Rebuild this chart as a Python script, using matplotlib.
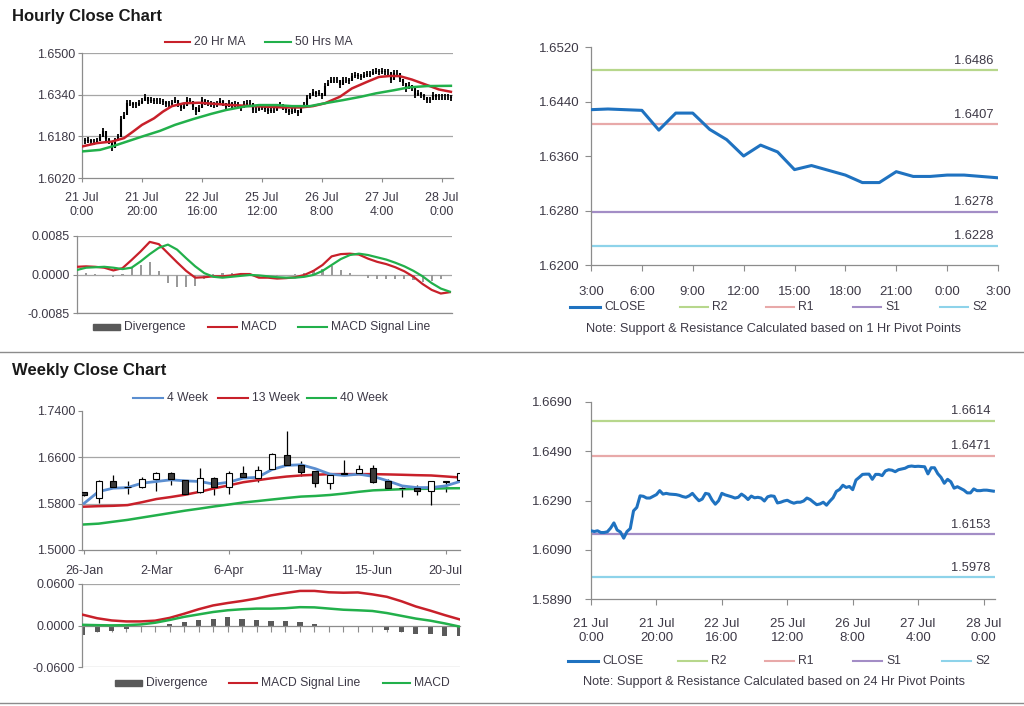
import matplotlib
matplotlib.use("Agg")
import matplotlib.pyplot as plt
import numpy as np
from matplotlib.lines import Line2D
from matplotlib.patches import Rectangle

plt.rcParams["font.family"] = ["Liberation Sans", "DejaVu Sans"]
plt.rcParams["font.size"] = 8

# ---------------- data ----------------
# hourly closes, 21 Jul 0:00 .. 28 Jul 3:00 (weekend hours skipped)
hourly_close = [
    1.6167, 1.6164, 1.6167, 1.6160, 1.6160, 1.6163, 1.6178, 1.6199, 1.6170, 1.6162,
    1.6137, 1.6164, 1.6176, 1.6248, 1.6262, 1.6309, 1.6307, 1.6300, 1.6300, 1.6307,
    1.6314, 1.6330, 1.6316, 1.6319, 1.6316, 1.6315, 1.6314, 1.6311, 1.6306, 1.6303,
    1.6309, 1.6319, 1.6303, 1.6289, 1.6296, 1.6319, 1.6316, 1.6292, 1.6275, 1.6289,
    1.6319, 1.6313, 1.6309, 1.6305, 1.6300, 1.6303, 1.6316, 1.6307, 1.6294, 1.6308,
    1.6301, 1.6303, 1.6300, 1.6288, 1.6305, 1.6309, 1.6307, 1.6280, 1.6283, 1.6288,
    1.6291, 1.6284, 1.6279, 1.6283, 1.6283, 1.6288, 1.6300, 1.6294, 1.6283, 1.6273,
    1.6276, 1.6283, 1.6271, 1.6287, 1.6301, 1.6327, 1.6335, 1.6352, 1.6343, 1.6347,
    1.6334, 1.6373, 1.6384, 1.6396, 1.6397, 1.6397, 1.6376, 1.6396, 1.6396, 1.6391,
    1.6410, 1.6415, 1.6413, 1.6407, 1.6415, 1.6418, 1.6421, 1.6428, 1.6430,
    1.6428, 1.6429, 1.6428, 1.6427, 1.6398, 1.6423, 1.6423, 1.6399, 1.6384, 1.6360,
    1.6376, 1.6366, 1.6340, 1.6346, 1.6339, 1.6332, 1.6321, 1.6321, 1.6337, 1.6330,
    1.6330, 1.6332, 1.6332, 1.6330, 1.6328,
]
hour_ticks = [0, 20, 40, 60, 80, 100, 120]
hour_tick_labels = ["21 Jul\n0:00", "21 Jul\n20:00", "22 Jul\n16:00", "25 Jul\n12:00",
                    "26 Jul\n8:00", "27 Jul\n4:00", "28 Jul\n0:00"]

ma20_hours = [0, 5, 10, 14, 17, 20, 24, 27, 30, 34, 39, 45, 50, 57, 61, 67, 73, 77, 81,
              86, 90, 95, 99, 103, 106, 110, 115, 119, 123]
ma20 = [1.6141, 1.6154, 1.6160, 1.6173, 1.6198, 1.6224, 1.6249, 1.6275, 1.6296, 1.6307,
        1.6309, 1.6304, 1.6300, 1.6296, 1.6294, 1.6291, 1.6291, 1.6296, 1.6307, 1.6332,
        1.6364, 1.6389, 1.6408, 1.6412, 1.6411, 1.6398, 1.6377, 1.6360, 1.6351]
ma50_hours = [0, 6, 10, 15, 20, 26, 31, 37, 43, 48, 54, 59, 65, 70, 76, 81, 87, 93, 98,
              104, 109, 115, 123]
ma50 = [1.6122, 1.6128, 1.6141, 1.6160, 1.6179, 1.6201, 1.6224, 1.6246, 1.6266, 1.6281,
        1.6294, 1.6300, 1.6300, 1.6296, 1.6296, 1.6307, 1.6319, 1.6332, 1.6345, 1.6357,
        1.6368, 1.6373, 1.6374]

# hourly MACD, read every 3 hours
macd_1h = [0.0017, 0.0018, 0.0017, 0.0015, 0.0009, 0.0014, 0.0032, 0.0051, 0.0072, 0.0067,
           0.0047, 0.0027, 0.0008, -0.0007, -0.0006, -0.0004, -0.0004, -0.0002, 0.0001, 0.0001,
           -0.0007, -0.0007, -0.0009, -0.0008, -0.0006, -0.0001, 0.0008, 0.0021, 0.0040, 0.0045,
           0.0046, 0.0044, 0.0035, 0.0028, 0.0023, 0.0016, 0.0007, -0.0005, -0.0021, -0.0034,
           -0.0042, -0.0039]
signal_1h = [0.0010, 0.0015, 0.0016, 0.0017, 0.0015, 0.0012, 0.0015, 0.0029, 0.0045, 0.0059,
             0.0066, 0.0055, 0.0036, 0.0018, 0.0003, -0.0005, -0.0007, -0.0005, -0.0003, -0.0001,
             -0.0002, -0.0004, -0.0006, -0.0007, -0.0007, -0.0005, -0.0001, 0.0008, 0.0021, 0.0034,
             0.0043, 0.0046, 0.0043, 0.0038, 0.0033, 0.0026, 0.0018, 0.0008, -0.0004, -0.0019,
             -0.0031, -0.0038]

# weekly candles 26-Jan .. 27-Jul
wk_open = [1.6004, 1.5900, 1.6190, 1.6092, 1.6092, 1.6226, 1.6337, 1.6209, 1.6004, 1.6250,
           1.6092, 1.6337, 1.6238, 1.6396, 1.6647, 1.6472, 1.6366, 1.6150, 1.6326, 1.6326,
           1.6413, 1.6191, 1.6075, 1.6074, 1.6022, 1.6180, 1.6209]
wk_high = [1.6010, 1.6215, 1.6296, 1.6191, 1.6255, 1.6355, 1.6355, 1.6215, 1.6413, 1.6267,
           1.6372, 1.6442, 1.6442, 1.6676, 1.7055, 1.6530, 1.6366, 1.6296, 1.6547, 1.6472,
           1.6472, 1.6220, 1.6080, 1.6121, 1.6191, 1.6190, 1.6337]
wk_low = [1.5940, 1.5815, 1.6080, 1.5964, 1.6063, 1.6016, 1.6121, 1.5975, 1.5987, 1.5946,
          1.5964, 1.6260, 1.6180, 1.6390, 1.6472, 1.6279, 1.6092, 1.6045, 1.6314, 1.6320,
          1.6160, 1.6050, 1.5917, 1.5946, 1.5771, 1.6004, 1.6209]
wk_close = [1.5946, 1.6190, 1.6090, 1.6088, 1.6220, 1.6337, 1.6226, 1.5975, 1.6238, 1.6092,
            1.6326, 1.6267, 1.6384, 1.6658, 1.6472, 1.6355, 1.6150, 1.6296, 1.6320, 1.6396,
            1.6180, 1.6063, 1.6069, 1.6022, 1.6191, 1.6185, 1.6337]
ma4w = [1.5806, 1.6009, 1.6067, 1.6078, 1.6154, 1.6183, 1.6212, 1.6194, 1.6183, 1.6136,
        1.6171, 1.6241, 1.6255, 1.6390, 1.6461, 1.6472, 1.6403, 1.6310, 1.6287, 1.6310,
        1.6270, 1.6194, 1.6107, 1.6078, 1.6078, 1.6107, 1.6183]
ma13w = [1.5748, 1.5757, 1.5763, 1.5775, 1.5825, 1.5880, 1.5915, 1.5955, 1.6005, 1.6065,
         1.6115, 1.6170, 1.6205, 1.6240, 1.6268, 1.6287, 1.6299, 1.6310, 1.6310, 1.6310,
         1.6310, 1.6305, 1.6299, 1.6292, 1.6287, 1.6270, 1.6252]
ma40w = [1.5441, 1.5455, 1.5488, 1.5520, 1.5560, 1.5600, 1.5640, 1.5680, 1.5715, 1.5752,
         1.5785, 1.5820, 1.5845, 1.5872, 1.5898, 1.5922, 1.5933, 1.5950, 1.5975, 1.6005,
         1.6030, 1.6040, 1.6050, 1.6055, 1.6058, 1.6065, 1.6067]
week_ticks = [0, 5, 10, 15, 20, 25]
week_tick_labels = ["26-Jan", "2-Mar", "6-Apr", "11-May", "15-Jun", "20-Jul"]

wk_divergence = [-0.0135, -0.0100, -0.0085, -0.0052, -0.0015, -0.0005, 0.0025, 0.0049, 0.0083,
                 0.0098, 0.0120, 0.0098, 0.0083, 0.0068, 0.0065, 0.0049, 0.0020, -0.0005,
                 -0.0015, -0.0015, -0.0018, -0.0063, -0.0098, -0.0117, -0.0130, -0.0146, -0.0146]
wk_signal = [0.0156, 0.0105, 0.0073, 0.0059, 0.0059, 0.0070, 0.0110, 0.0170, 0.0235, 0.0290,
             0.0325, 0.0355, 0.0390, 0.0435, 0.0470, 0.0500, 0.0500, 0.0480, 0.0474, 0.0478,
             0.0450, 0.0415, 0.0351, 0.0275, 0.0215, 0.0150, 0.0090]
wk_macd = [0.0010, 0.0005, 0.0002, 0.0005, 0.0015, 0.0040, 0.0080, 0.0125, 0.0160, 0.0195,
           0.0220, 0.0235, 0.0244, 0.0244, 0.0250, 0.0265, 0.0262, 0.0245, 0.0228, 0.0220,
           0.0210, 0.0180, 0.0140, 0.0100, 0.0070, 0.0030, -0.0015]

level_names = ["R2", "R1", "S1", "S2"]
pivot_1h_levels = [1.6486, 1.6407, 1.6278, 1.6228]
pivot_24h_levels = [1.6614, 1.6471, 1.6153, 1.5978]
pivot_1h_tick_labels = ["3:00", "6:00", "9:00", "12:00", "15:00", "18:00", "21:00", "0:00", "3:00"]

# ---------------- style ----------------
W, H = 1024, 706
TEXT = "#3d3946"
AXIS = "#8c8c8c"
GRID = "#a6a6a6"
RED = "#c8202a"
GREEN = "#22b04b"
BLUE_MA = "#5b8ed0"
CLOSE_BLUE = "#1f72c0"
LEVEL_COLORS = ["#b7d78c", "#e8a9a9", "#a38dc6", "#8ed3ea"]
LEG_FS = 8.7


def box(x0, y0, x1, y1):
    return [x0 / W, 1 - y1 / H, (x1 - x0) / W, (y1 - y0) / H]


def fx(x):
    return x / W


def fy(y):
    return 1 - y / H


def style_axes(ax, size=9):
    for s in ("top", "right"):
        ax.spines[s].set_visible(False)
    for s in ("left", "bottom"):
        ax.spines[s].set_color(AXIS)
        ax.spines[s].set_linewidth(0.9)
    ax.tick_params(colors=AXIS, labelcolor=TEXT, length=3, width=0.8, labelsize=size)


def hgrid(ax, values):
    for v in values:
        ax.axhline(v, color=GRID, lw=0.9, zorder=0)


def legend_line(fig, x0, x1, y, color, label, lw=1.5):
    fig.add_artist(Line2D([fx(x0), fx(x1)], [fy(y), fy(y)], color=color, lw=lw,
                          transform=fig.transFigure))
    fig.text(fx(x1 + 4), fy(y), label, ha="left", va="center", color=TEXT, fontsize=LEG_FS)


def legend_box(fig, x0, x1, y, color, label):
    fig.add_artist(Rectangle((fx(x0), fy(y + 3)), fx(x1 - x0), 6 / H, color=color,
                             transform=fig.transFigure))
    fig.text(fx(x1 + 4), fy(y), label, ha="left", va="center", color=TEXT, fontsize=LEG_FS)


def fmt(values, nd=4):
    return [f"{v:.{nd}f}" for v in values]


def draw_pivot(ax, x, close, levels, xmax):
    for lvl, col in zip(levels, LEVEL_COLORS):
        ax.axhline(lvl, color=col, lw=1.6, zorder=1)
        ax.annotate(f"{lvl:.4f}", xy=(xmax, lvl), xytext=(-3, 2.5), textcoords="offset points",
                    ha="right", va="bottom", color=TEXT, fontsize=9.3)
    ax.plot(x, close, color=CLOSE_BLUE, lw=2.2, zorder=3)


def main():
    fig = plt.figure(figsize=(W / 100, H / 100), dpi=100)

    close = np.array(hourly_close)
    hours = np.arange(len(close))

    # ---------- hourly price ----------
    fig.text(fx(12), fy(16), "Hourly Close Chart", fontsize=12, fontweight="bold",
             color="#1a1a1a", va="center")
    ax = fig.add_axes(box(82, 53, 453, 178))
    style_axes(ax)
    opens = np.r_[close[0], close[:-1]]
    ax.vlines(hours, np.minimum(opens, close), np.maximum(opens, close), color="black", lw=1.5,
              zorder=2)
    ax.plot(hours, close, ls="none", marker="|", ms=5, mew=1.3, color="black", zorder=2)
    ax.plot(ma20_hours, ma20, color=RED, lw=1.8, zorder=3)
    ax.plot(ma50_hours, ma50, color=GREEN, lw=1.8, zorder=3)
    ax.set_xlim(0, 123.7)
    ax.set_ylim(1.6020, 1.6500)
    yt = [1.6020, 1.6180, 1.6340, 1.6500]
    ax.set_yticks(yt)
    ax.set_yticklabels(fmt(yt))
    ax.set_xticks(hour_ticks)
    ax.set_xticklabels(hour_tick_labels)
    ax.tick_params(axis="x", pad=7)
    ax.tick_params(axis="y", pad=2)
    hgrid(ax, yt[1:])
    legend_line(fig, 165, 190, 42, RED, "20 Hr MA")
    legend_line(fig, 265, 291, 42, GREEN, "50 Hrs MA")

    # ---------- hourly MACD ----------
    ax = fig.add_axes(box(77, 236, 452, 313))
    style_axes(ax)
    mh = np.arange(0, 124, 3)
    div = np.array(macd_1h) - np.array(signal_1h)
    ax.bar(mh, div, width=0.7, color="#9a9a9a", zorder=2)
    ax.plot(mh, macd_1h, color=RED, lw=1.6, zorder=3)
    ax.plot(mh, signal_1h, color=GREEN, lw=1.6, zorder=3)
    ax.set_xlim(0, 123.7)
    ax.set_ylim(-0.0085, 0.0085)
    yt = [-0.0085, 0.0, 0.0085]
    ax.set_yticks(yt)
    ax.set_yticklabels(fmt(yt))
    ax.tick_params(axis="y", pad=2)
    ax.set_xticks([])
    hgrid(ax, yt)
    legend_box(fig, 93, 120, 327, "#595959", "Divergence")
    legend_line(fig, 208, 237, 327, RED, "MACD")
    legend_line(fig, 298, 327, 327, GREEN, "MACD Signal Line")

    # ---------- 1hr pivot ----------
    ax = fig.add_axes(box(591, 47, 998, 265))
    style_axes(ax, size=9.5)
    last = close[99:]
    draw_pivot(ax, np.arange(len(last)), last, pivot_1h_levels, 24)
    ax.set_xlim(0, 24)
    ax.set_ylim(1.6200, 1.6520)
    yt = [1.6200, 1.6280, 1.6360, 1.6440, 1.6520]
    ax.set_yticks(yt)
    ax.set_yticklabels(fmt(yt))
    ax.set_xticks(np.arange(0, 25, 3))
    ax.set_xticklabels(pivot_1h_tick_labels)
    ax.tick_params(axis="x", pad=11, length=4)
    ax.tick_params(axis="y", pad=4, length=4)
    legend_line(fig, 570, 600, 307, CLOSE_BLUE, "CLOSE", lw=2.2)
    for name, col, x0 in zip(level_names, LEVEL_COLORS, [680, 766, 853, 940]):
        legend_line(fig, x0, x0 + 28, 307, col, name)
    fig.text(fx(774), fy(329), "Note: Support & Resistance Calculated based on 1 Hr Pivot Points",
             ha="center", va="center", color=TEXT, fontsize=9.2)

    fig.add_artist(Line2D([0, 1], [fy(352), fy(352)], color="#8c8c8c", lw=1,
                          transform=fig.transFigure))

    # ---------- weekly price ----------
    fig.text(fx(12), fy(370), "Weekly Close Chart", fontsize=12, fontweight="bold",
             color="#1a1a1a", va="center")
    ax = fig.add_axes(box(82, 411, 460, 550))
    style_axes(ax)
    weeks = np.arange(len(wk_close))
    o = np.array(wk_open)
    c = np.array(wk_close)
    ax.vlines(weeks, wk_low, wk_high, color="black", lw=0.9, zorder=2)
    ax.plot(weeks, ma40w, color=GREEN, lw=1.8, zorder=3)
    ax.plot(weeks, ma13w, color=RED, lw=1.8, zorder=3)
    ax.plot(weeks, ma4w, color=BLUE_MA, lw=2.0, zorder=3)
    faces = np.where(c >= o, "white", "#3a3a3a")
    ax.bar(weeks, c - o, bottom=o, width=0.42, color=faces, edgecolor="black", lw=0.8, zorder=4)
    ax.set_xlim(-0.15, 26.0)
    ax.set_ylim(1.5000, 1.7400)
    yt = [1.5000, 1.5800, 1.6600, 1.7400]
    ax.set_yticks(yt)
    ax.set_yticklabels(fmt(yt))
    ax.set_xticks(week_ticks)
    ax.set_xticklabels(week_tick_labels)
    ax.tick_params(axis="x", pad=8)
    ax.tick_params(axis="y", pad=2)
    hgrid(ax, [1.5800, 1.6600])
    legend_line(fig, 133, 163, 398, BLUE_MA, "4 Week")
    legend_line(fig, 218, 248, 398, RED, "13 Week")
    legend_line(fig, 307, 336, 398, GREEN, "40 Week")

    # ---------- weekly MACD ----------
    ax = fig.add_axes(box(82, 584, 460, 667))
    style_axes(ax)
    ax.bar(weeks, wk_divergence, width=0.35, color="#5a5a5a", zorder=2)
    ax.plot(weeks, wk_signal, color=RED, lw=1.8, zorder=3)
    ax.plot(weeks, wk_macd, color=GREEN, lw=1.8, zorder=3)
    ax.set_xlim(-0.05, 26.05)
    ax.set_ylim(-0.06, 0.06)
    yt = [-0.06, 0.0, 0.06]
    ax.set_yticks(yt)
    ax.set_yticklabels(fmt(yt))
    ax.tick_params(axis="y", pad=2)
    ax.spines["bottom"].set_position(("data", 0))
    ax.set_xticks(weeks)
    ax.set_xticklabels([])
    ax.tick_params(axis="x", length=4)
    hgrid(ax, [-0.06, 0.06])
    legend_box(fig, 115, 142, 683, "#595959", "Divergence")
    legend_line(fig, 229, 257, 683, RED, "MACD Signal Line")
    legend_line(fig, 383, 410, 683, GREEN, "MACD")

    # ---------- 24hr pivot ----------
    ax = fig.add_axes(box(591, 402, 995, 599))
    style_axes(ax, size=9.5)
    draw_pivot(ax, hours, close, pivot_24h_levels, 123.5)
    ax.set_xlim(0, 123.5)
    ax.set_ylim(1.5890, 1.6690)
    yt = [1.5890, 1.6090, 1.6290, 1.6490, 1.6690]
    ax.set_yticks(yt)
    ax.set_yticklabels(fmt(yt))
    ax.set_xticks(hour_ticks)
    ax.set_xticklabels(hour_tick_labels)
    ax.tick_params(axis="x", pad=10, length=4)
    ax.tick_params(axis="y", pad=9, length=4)
    legend_line(fig, 568, 598, 661, CLOSE_BLUE, "CLOSE", lw=2.2)
    for name, col, x0 in zip(level_names, LEVEL_COLORS, [678, 765, 853, 942]):
        legend_line(fig, x0, x0 + 29, 661, col, name)
    fig.text(fx(774), fy(682), "Note: Support & Resistance Calculated based on 24 Hr Pivot Points",
             ha="center", va="center", color=TEXT, fontsize=9.2)

    fig.add_artist(Line2D([0, 1], [fy(703), fy(703)], color="#8c8c8c", lw=1,
                          transform=fig.transFigure))

    fig.savefig("out.png", dpi=100)
    plt.close(fig)


if __name__ == "__main__":
    main()
